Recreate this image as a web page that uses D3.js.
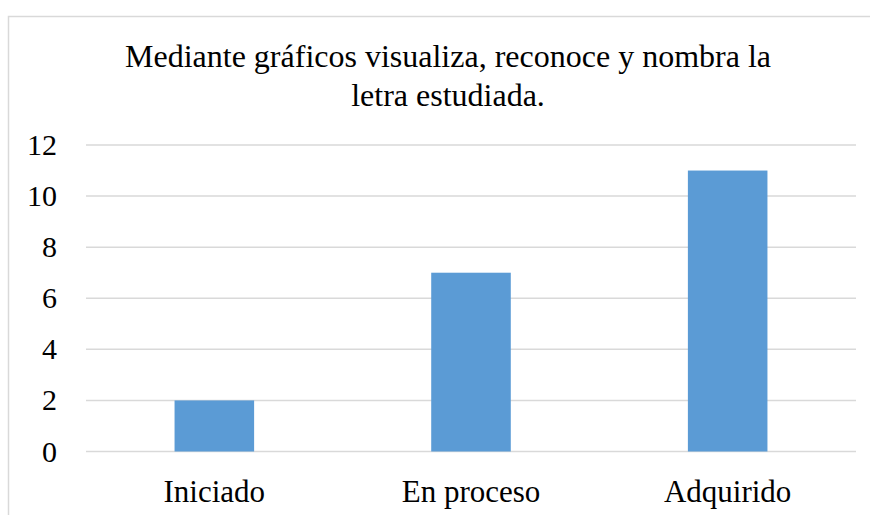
<!DOCTYPE html>
<html>
<head>
<meta charset="utf-8">
<script src="https://cdn.jsdelivr.net/npm/d3@7"></script>
</head>
<body style="margin:0">
<script>
// Data
var categories = ["Iniciado", "En proceso", "Adquirido"];
var values = [2, 7, 11];
var yTicks = [0, 2, 4, 6, 8, 10, 12];
var titleLines = ["Mediante gráficos visualiza, reconoce y nombra la", "letra estudiada."];

var width = 870, height = 515;
var margin = {left: 86, right: 14, top: 145, bottom: 63.5};
var fontName = "'Liberation Serif'";

var svg = d3.select("body").append("svg")
    .attr("width", width)
    .attr("height", height);

// chart area border (runs off the right and bottom edge)
svg.append("rect")
    .attr("x", 8.5).attr("y", 16.5)
    .attr("width", width + 20).attr("height", height + 20)
    .attr("fill", "none")
    .attr("stroke", "#d9d9d9")
    .attr("stroke-width", 1.5);

var x = d3.scaleBand()
    .domain(categories)
    .range([margin.left, width - margin.right])
    .paddingInner(0.69)
    .paddingOuter(0.345);

var y = d3.scaleLinear()
    .domain([0, 12])
    .range([height - margin.bottom, margin.top]);

// gridlines
svg.selectAll("line.grid")
    .data(yTicks)
    .enter().append("line")
    .attr("class", "grid")
    .attr("x1", margin.left)
    .attr("x2", width - margin.right)
    .attr("y1", function(d) { return y(d); })
    .attr("y2", function(d) { return y(d); })
    .attr("stroke", "#d9d9d9")
    .attr("stroke-width", 1.5);

// bars
svg.selectAll("rect.bar")
    .data(values)
    .enter().append("rect")
    .attr("class", "bar")
    .attr("x", function(d, i) { return x(categories[i]); })
    .attr("width", x.bandwidth())
    .attr("y", function(d) { return y(d); })
    .attr("height", function(d) { return y(0) - y(d); })
    .attr("fill", "#5b9bd5");

// y labels
svg.selectAll("text.ylab")
    .data(yTicks)
    .enter().append("text")
    .attr("class", "ylab")
    .attr("x", 57)
    .attr("y", function(d) { return y(d) + 10; })
    .attr("text-anchor", "end")
    .attr("font-size", 30)
    .style("font-family", fontName)
    .text(function(d) { return d; });

// category labels
svg.selectAll("text.xlab")
    .data(categories)
    .enter().append("text")
    .attr("class", "xlab")
    .attr("x", function(d) { return x(d) + x.bandwidth() / 2; })
    .attr("y", y(0) + 50)
    .attr("text-anchor", "middle")
    .attr("font-size", 31)
    .style("font-family", fontName)
    .text(function(d) { return d; });

// title
svg.selectAll("text.title")
    .data(titleLines)
    .enter().append("text")
    .attr("class", "title")
    .attr("x", 448)
    .attr("y", function(d, i) { return 67 + i * 39; })
    .attr("text-anchor", "middle")
    .attr("font-size", 32)
    .style("font-family", fontName)
    .text(function(d) { return d; });
</script>
</body>
</html>
